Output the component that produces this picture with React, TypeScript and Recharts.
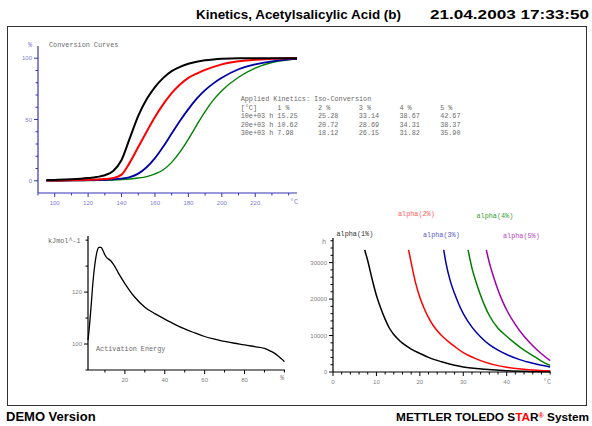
import { Line, LineChart, XAxis, YAxis } from 'recharts'

// conversion curves (top): temperature in °C, conversion in %
const CONV_TEMPS = [95, 100, 110, 120, 125, 130, 135, 140, 145, 150, 155, 160, 165, 170, 175, 180, 185, 190, 195, 200, 210, 220, 230, 240, 245]
const CONV_10K = [0.5, 0.7, 1.2, 2.2, 3, 4.5, 8, 17, 35, 53, 66.5, 76.5, 84, 89.5, 93, 95.5, 97.2, 98.3, 99, 99.5, 100, 100, 100, 100, 100]
const CONV_20K = [0.3, 0.3, 0.5, 0.8, 1, 1.4, 2.2, 5, 15, 27.5, 40, 52, 62.5, 71.5, 78.5, 84, 87.5, 90.5, 93, 95, 97.5, 98.8, 99.5, 100, 100]
const CONV_30K = [0.2, 0.2, 0.3, 0.5, 0.6, 0.8, 1.2, 1.8, 3, 5.8, 11, 18.5, 28, 38.5, 49, 58.5, 67, 74, 79.5, 84, 91, 95, 97.5, 99, 99.5]
const CONV_40K = [0, 0, 0.1, 0.2, 0.3, 0.4, 0.6, 0.9, 1.4, 2.2, 3.4, 5.6, 9, 15, 23.5, 34, 45.5, 56.5, 66, 73.5, 84.5, 92, 96.5, 98.8, 99.5]

// iso-conversion table
const TABLE_TITLE = 'Applied Kinetics: Iso-Conversion'
const TABLE_HEAD = ['[°C]', '1 %', '2 %', '3 %', '4 %', '5 %']
const TABLE_ROWS = ['10e+03 h', '20e+03 h', '30e+03 h']
const TABLE_VALUES = [
  ['15.25', '25.28', '33.14', '38.67', '42.67'],
  ['10.62', '20.72', '28.69', '34.31', '38.37'],
  ['7.98', '18.12', '26.15', '31.82', '35.90'],
]

// activation energy (bottom left): conversion % vs kJ/mol
const EA_CONV = [1.5, 2, 3, 4, 5, 6, 7, 8, 9, 10, 11, 12, 13, 14, 15, 17, 20, 25, 30, 35, 40, 45, 50, 55, 60, 65, 70, 75, 80, 85, 90, 93, 95, 97, 99, 100]
const EA_VALUES = [101.5, 105, 114, 124, 131, 135.5, 137.2, 137.2, 136, 134.3, 133.2, 132.6, 132, 131, 129.8, 127, 123.3, 118, 114.2, 111.7, 109.6, 107.6, 105.8, 104.3, 102.9, 101.9, 101, 100.3, 99.7, 99, 98.3, 97.3, 96.5, 95.3, 94, 93.2]

// iso-conversion times (bottom right): °C vs hours
const A1_T = [7.3, 8, 9, 10, 11, 12, 13, 14, 15, 16, 18, 20, 22, 25, 28, 30, 35, 40, 45, 50]
const A1_H = [33500, 30500, 25500, 21000, 17500, 14500, 12000, 10300, 9000, 7900, 6300, 5100, 4000, 2800, 1850, 1400, 750, 350, 170, 90]
const A2_T = [17.4, 18, 19, 20, 21, 22, 23, 24, 25, 26, 27, 28, 30, 33, 35, 40, 45, 50]
const A2_H = [33500, 30000, 24500, 20500, 17400, 14900, 12900, 11300, 10000, 8900, 7900, 7000, 5300, 3600, 2700, 1300, 650, 320]
const A3_T = [25.5, 26, 27, 28, 29, 30, 32, 34, 36, 38, 40, 43, 46, 50]
const A3_H = [33500, 30000, 25000, 21500, 18500, 16000, 12300, 9600, 7500, 6000, 4800, 3400, 2400, 1400]
const A4_T = [31.1, 32, 33, 34, 35, 36, 38, 40, 42, 44, 46, 48, 50]
const A4_H = [33500, 28500, 24500, 21000, 18000, 15500, 12000, 9800, 7800, 6000, 4500, 3000, 1800]
const A5_T = [35.3, 36, 37, 38, 39, 40, 42, 44, 46, 48, 50]
const A5_H = [33500, 30000, 26000, 22500, 19500, 17000, 13000, 9800, 7200, 5000, 3100]
const ALPHA_LABELS = ['alpha(1%)', 'alpha(2%)', 'alpha(3%)', 'alpha(4%)', 'alpha(5%)']

const MONO = '"Liberation Mono", "DejaVu Sans Mono", monospace'
const SANS = '"Liberation Sans", Arial, sans-serif'
const GREY = '#808080'
const NOTE = '#6a6a6a'
const BLUE_AXIS = '#3535b5'
const BLUE_TEXT = '#7c7cd4'

const range = (a: number, b: number, step: number) => {
  const out: number[] = []
  for (let v = a; v <= b + 1e-9; v += step) out.push(v)
  return out
}

function bottomTick(fmt: (v: number) => string, axis: string, text: string) {
  return (p: any) => {
    const label = fmt(p.payload.value)
    const len = label ? 4 : 2.5
    return (
      <g>
        <line x1={p.x} x2={p.x} y1={p.y} y2={p.y + len} stroke={axis} strokeWidth={1} />
        {label && (
          <text x={p.x} y={p.y + 12} textAnchor="middle" fill={text} fontSize={6} fontFamily={SANS}>
            {label}
          </text>
        )}
      </g>
    )
  }
}

function leftTick(fmt: (v: number) => string, axis: string, text: string) {
  return (p: any) => {
    const label = fmt(p.payload.value)
    const len = label ? 4 : 2.5
    return (
      <g>
        <line x1={p.x - len} x2={p.x} y1={p.y} y2={p.y} stroke={axis} strokeWidth={1} />
        {label && (
          <text x={p.x - 6} y={p.y + 2} textAnchor="end" fill={text} fontSize={6} fontFamily={SANS}>
            {label}
          </text>
        )}
      </g>
    )
  }
}

function Note({ x, y, color = NOTE, children }: { x: number; y: number; color?: string; children: any }) {
  return (
    <div
      style={{
        position: 'absolute',
        left: x,
        top: y - 5,
        height: 10,
        lineHeight: '10px',
        fontFamily: MONO,
        fontSize: 6.8,
        color,
        whiteSpace: 'pre',
      }}
    >
      {children}
    </div>
  )
}

const convData = CONV_TEMPS.map((t, i) => ({
  t,
  a: CONV_10K[i],
  b: CONV_20K[i],
  c: CONV_30K[i],
  d: CONV_40K[i],
}))
const eaData = EA_CONV.map((c, i) => ({ c, e: EA_VALUES[i] }))
const toPts = (ts: number[], hs: number[]) => ts.map((t, i) => ({ t, h: hs[i] }))
const alphaSeries = [
  { data: toPts(A1_T, A1_H), color: '#000000', text: '#333333', lx: 336.5, ly: 234 },
  { data: toPts(A2_T, A2_H), color: '#ff0000', text: '#ff5a5a', lx: 398, ly: 214 },
  { data: toPts(A3_T, A3_H), color: '#0000a8', text: '#5a5acc', lx: 423, ly: 235 },
  { data: toPts(A4_T, A4_H), color: '#008000', text: '#34a034', lx: 476.5, ly: 216 },
  { data: toPts(A5_T, A5_H), color: '#a000a8', text: '#b848b8', lx: 503, ly: 236 },
]

const TABLE_X = 240.7
const CH = 4.07
const TABLE_COLS = [0, 9, 19, 29, 39, 49]

export default function App() {
  return (
    <div style={{ position: 'absolute', left: 0, top: 0, width: 592, height: 426, background: '#fff', overflow: 'hidden' }}>
      <div
        style={{
          position: 'absolute',
          left: 7,
          top: 26,
          width: 578,
          height: 378,
          border: '1px solid #333',
        }}
      />

      {/* conversion curves */}
      <div style={{ position: 'absolute', left: 0, top: 0 }}>
        <LineChart width={300} height={215} data={convData} margin={{ top: 46, right: 3, bottom: 0, left: 0 }}>
          <XAxis
            dataKey="t"
            type="number"
            domain={[90, 245]}
            ticks={range(90, 240, 10)}
            interval={0}
            height={22}
            tickSize={0}
            tickMargin={0}
            tickLine={false}
            axisLine={{ stroke: BLUE_AXIS, strokeWidth: 1.2 }}
            tick={bottomTick((v) => (v >= 100 && v <= 220 && v % 20 === 0 ? String(v) : ''), BLUE_AXIS, BLUE_TEXT)}
          />
          <YAxis
            type="number"
            domain={[-10, 110]}
            ticks={range(0, 100, 10)}
            interval={0}
            width={38}
            tickSize={0}
            tickMargin={0}
            tickLine={false}
            axisLine={{ stroke: BLUE_AXIS, strokeWidth: 1.2 }}
            tick={leftTick((v) => (v % 50 === 0 ? String(v) : ''), BLUE_AXIS, BLUE_TEXT)}
          />
          <Line dataKey="d" type="monotone" stroke="#008000" strokeWidth={1.4} dot={false} isAnimationActive={false} />
          <Line dataKey="c" type="monotone" stroke="#0000a8" strokeWidth={1.8} dot={false} isAnimationActive={false} />
          <Line dataKey="b" type="monotone" stroke="#ff0000" strokeWidth={2} dot={false} isAnimationActive={false} />
          <Line dataKey="a" type="monotone" stroke="#000000" strokeWidth={2} dot={false} isAnimationActive={false} />
        </LineChart>
      </div>
      <Note x={28} y={45} color={BLUE_TEXT}>%</Note>
      <Note x={49} y={45}>Conversion Curves</Note>
      <Note x={290} y={202} color={BLUE_TEXT}>°C</Note>

      <Note x={TABLE_X} y={99}>{TABLE_TITLE}</Note>
      {TABLE_HEAD.map((h, i) => (
        <Note key={h} x={TABLE_X + TABLE_COLS[i] * CH} y={107.5}>{h}</Note>
      ))}
      {TABLE_ROWS.map((r, j) => (
        <div key={r}>
          <Note x={TABLE_X} y={116 + j * 8.5}>{r}</Note>
          {TABLE_VALUES[j].map((v, i) => (
            <Note key={i} x={TABLE_X + TABLE_COLS[i + 1] * CH} y={116 + j * 8.5}>{v}</Note>
          ))}
        </div>
      ))}

      {/* activation energy */}
      <div style={{ position: 'absolute', left: 0, top: 200 }}>
        <LineChart width={290} height={190} data={eaData} margin={{ top: 36, right: 5, bottom: 0, left: 0 }}>
          <XAxis
            dataKey="c"
            type="number"
            domain={[1.7, 100.3]}
            ticks={range(10, 100, 10)}
            interval={0}
            height={20}
            tickSize={0}
            tickMargin={0}
            tickLine={false}
            axisLine={{ stroke: '#000', strokeWidth: 1.2 }}
            tick={bottomTick((v) => (v % 20 === 0 && v < 100 ? String(v) : ''), '#000', GREY)}
          />
          <YAxis
            type="number"
            domain={[90, 141.6]}
            ticks={range(90, 140, 10)}
            interval={0}
            width={88}
            tickSize={0}
            tickMargin={0}
            tickLine={false}
            axisLine={{ stroke: '#000', strokeWidth: 1.2 }}
            tick={leftTick((v) => (v === 100 || v === 120 ? String(v) : ''), '#000', GREY)}
          />
          <Line dataKey="e" type="monotone" stroke="#000" strokeWidth={1.3} dot={false} isAnimationActive={false} />
        </LineChart>
      </div>
      <Note x={48} y={241}>kJmol^-1</Note>
      <Note x={96} y={349}>Activation Energy</Note>
      <Note x={280} y={378} color={GREY}>%</Note>

      {/* iso-conversion times */}
      <div style={{ position: 'absolute', left: 290, top: 200 }}>
        <LineChart width={265} height={190} margin={{ top: 38, right: 4, bottom: 0, left: 0 }}>
          <XAxis
            dataKey="t"
            type="number"
            domain={[0, 50.2]}
            ticks={range(0, 50, 2)}
            interval={0}
            height={18}
            tickSize={0}
            tickMargin={0}
            tickLine={false}
            axisLine={{ stroke: '#000', strokeWidth: 1.2 }}
            tick={bottomTick((v) => (v % 10 === 0 && v < 50 ? String(v) : ''), '#000', GREY)}
          />
          <YAxis
            dataKey="h"
            type="number"
            domain={[0, 36750]}
            ticks={range(0, 36000, 2000)}
            interval={0}
            width={43}
            tickSize={0}
            tickMargin={0}
            tickLine={false}
            axisLine={{ stroke: '#000', strokeWidth: 1.2 }}
            tick={leftTick((v) => (v % 10000 === 0 ? String(v) : ''), '#000', GREY)}
          />
          {alphaSeries.map((s, i) => (
            <Line
              key={ALPHA_LABELS[i]}
              data={s.data}
              dataKey="h"
              type="monotone"
              stroke={s.color}
              strokeWidth={1.5}
              dot={false}
              isAnimationActive={false}
            />
          ))}
        </LineChart>
      </div>
      <Note x={322} y={242} color={GREY}>h</Note>
      <Note x={543} y={382} color={GREY}>°C</Note>
      {alphaSeries.map((s, i) => (
        <Note key={i} x={s.lx} y={s.ly} color={s.text}>{ALPHA_LABELS[i]}</Note>
      ))}

      <svg width={592} height={426} style={{ position: 'absolute', left: 0, top: 0, pointerEvents: 'none' }}>
        <g fontFamily={SANS} fontWeight="bold" fill="#000">
          <text x={196} y={19} fontSize={13} textLength={205} lengthAdjust="spacingAndGlyphs">Kinetics, Acetylsalicylic Acid (b)</text>
          <text x={430} y={19} fontSize={13} textLength={159} lengthAdjust="spacingAndGlyphs">21.04.2003 17:33:50</text>
          <text x={6} y={421} fontSize={13}>DEMO Version</text>
          <text x={589} y={421} fontSize={11.8} textAnchor="end">
            METTLER TOLEDO S<tspan fill="#ff0000">TA</tspan>R<tspan fill="#ff0000" fontSize={7} baselineShift="40%">®</tspan> System
          </text>
        </g>
      </svg>
    </div>
  )
}
